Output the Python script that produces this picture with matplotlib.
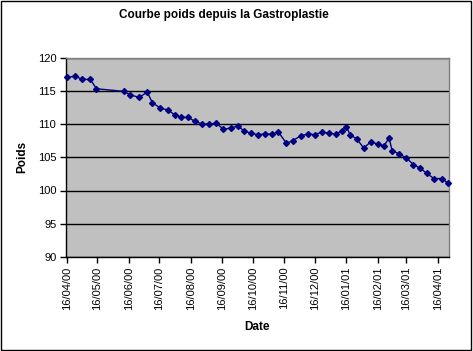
import matplotlib
matplotlib.use("Agg")
import matplotlib.pyplot as plt
import matplotlib.dates as mdates
import pandas as pd
from matplotlib.patches import Rectangle

dates = ["2000-04-16", "2000-04-24", "2000-05-01", "2000-05-09", "2000-05-15",
         "2000-06-11", "2000-06-17", "2000-06-26", "2000-07-04", "2000-07-09",
         "2000-07-17", "2000-07-24", "2000-07-31", "2000-08-06", "2000-08-13",
         "2000-08-20", "2000-08-27", "2000-09-03", "2000-09-10", "2000-09-17",
         "2000-09-24", "2000-10-01", "2000-10-07", "2000-10-14", "2000-10-21",
         "2000-10-28", "2000-11-04", "2000-11-10", "2000-11-18", "2000-11-24",
         "2000-12-02", "2000-12-09", "2000-12-16", "2000-12-23", "2000-12-30",
         "2001-01-06", "2001-01-12", "2001-01-16", "2001-01-20", "2001-01-26",
         "2001-02-02", "2001-02-09", "2001-02-16", "2001-02-22", "2001-02-27",
         "2001-03-02", "2001-03-09", "2001-03-16", "2001-03-23", "2001-03-29",
         "2001-04-05", "2001-04-12", "2001-04-20", "2001-04-26"]
poids = [117.0, 117.2, 116.7, 116.7, 115.3,
         114.9, 114.4, 114.0, 114.8, 113.2,
         112.4, 112.1, 111.4, 111.0, 111.0,
         110.4, 110.0, 110.0, 110.1, 109.2,
         109.4, 109.7, 109.0, 108.6, 108.4,
         108.5, 108.5, 108.8, 107.1, 107.5,
         108.2, 108.5, 108.4, 108.8, 108.6,
         108.5, 109.0, 109.6, 108.3, 107.8,
         106.4, 107.3, 107.0, 106.7, 107.9,
         106.0, 105.5, 104.9, 103.9, 103.4,
         102.6, 101.8, 101.8, 101.1]
tick_dates = ["2000-04-16", "2000-05-16", "2000-06-16", "2000-07-16", "2000-08-16",
              "2000-09-16", "2000-10-16", "2000-11-16", "2000-12-16", "2001-01-16",
              "2001-02-16", "2001-03-16", "2001-04-16"]
y_ticks = [90, 95, 100, 105, 110, 115, 120]

title = "Courbe poids depuis la Gastroplastie"

plt.rcParams['font.family'] = ['Liberation Sans', 'DejaVu Sans']

W, H = 473, 351
fig = plt.figure(figsize=(W / 100, H / 100), dpi=100)
fig.patch.set_facecolor("white")
fig.add_artist(Rectangle((0.5 / W, 1.5 / H), (W - 2.5) / W, (H - 2.5) / H,
                         transform=fig.transFigure, fill=False,
                         edgecolor="black", linewidth=1))

left, right, top, bottom = 66, 449, 57.5, 257
ax = fig.add_axes([left / W, 1 - bottom / H, (right - left) / W, (bottom - top) / H])
ax.set_facecolor("#C0C0C0")

x = pd.to_datetime(dates)
ax.plot(x, poids, color="#000080", linewidth=1, marker="D", markersize=3,
        markerfacecolor="#000080", markeredgecolor="#000080", zorder=3,
        clip_on=False)

ax.set_ylim(90, 120)
ax.set_yticks(y_ticks)
ax.yaxis.grid(True, color="black", linewidth=1)
ax.set_axisbelow(True)

tx = pd.to_datetime(tick_dates)
ax.set_xlim(pd.Timestamp("2000-04-15"), pd.Timestamp("2001-04-27"))
ax.set_xticks(tx)
ax.xaxis.set_major_formatter(mdates.DateFormatter("%d/%m/%y"))

for lbl in ax.get_xticklabels():
    lbl.set_rotation(90)
ax.tick_params(axis="x", labelsize=8, direction="out", length=4, width=1, pad=3)
ax.tick_params(axis="y", labelsize=8, direction="out", length=4, width=1, pad=3)

for s in ["left", "bottom"]:
    ax.spines[s].set_color("black")
    ax.spines[s].set_linewidth(1)
for s in ["top", "right"]:
    ax.spines[s].set_color("#808080")
    ax.spines[s].set_linewidth(1)

fig.text(224 / W, 1 - 15 / H, title, ha="center", va="center",
         fontsize=8.5, fontweight="bold")
fig.text(257 / W, 1 - 327 / H, "Date", ha="center", va="center",
         fontsize=8.5, fontweight="bold")
fig.text(22 / W, 1 - 157 / H, "Poids", ha="center", va="center",
         fontsize=8.5, fontweight="bold", rotation=90)

fig.savefig("out.png", dpi=100)
